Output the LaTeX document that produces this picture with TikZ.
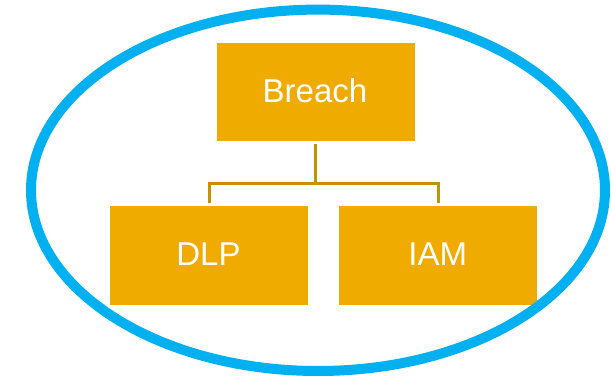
\documentclass[tikz,border=0pt]{standalone}
\usepackage{fontspec}
\setmainfont{Liberation Sans}
\definecolor{boxgold}{HTML}{F0AB00}
\definecolor{linegold}{HTML}{C39200}
\definecolor{ringblue}{HTML}{00B0F0}
\begin{document}
\begin{tikzpicture}[x=1pt,y=-1pt,
  gbox/.style={fill=boxgold, draw=none, minimum width=198pt, minimum height=98pt, inner sep=0pt},
  lbl/.style={text=white, font=\fontsize{33}{36}\selectfont, anchor=base, inner sep=0pt},
  conn/.style={draw=linegold, line width=2.5pt}]
\useasboundingbox (0,0) rectangle (611,377);
\node[gbox] (breach) at (316,92.5) {};
\node[gbox] (dlp) at (209.3,255.5) {};
\node[gbox] (iam) at (438,255.5) {};
\node[lbl] (tb) at (315,102.7) {Breach};
\node[lbl] (td) at (208.5,265.7) {DLP};
\node[lbl] (ti) at (437.8,265.7) {IAM};
\coordinate (top) at (315.7,144);
\coordinate (mid) at (315.7,183.7);
\coordinate (jl) at (209.3,183.7);
\coordinate (jr) at (438.4,183.7);
\coordinate (el) at (209.3,203);
\coordinate (er) at (438.4,203);
\draw[conn] (top) -- (mid);
\draw[conn] (el) -- (jl) -- (jr) -- (er);
\draw[ringblue, line width=10pt] (318,190.3) ellipse [x radius=287, y radius=180.7];
\end{tikzpicture}
\end{document}
